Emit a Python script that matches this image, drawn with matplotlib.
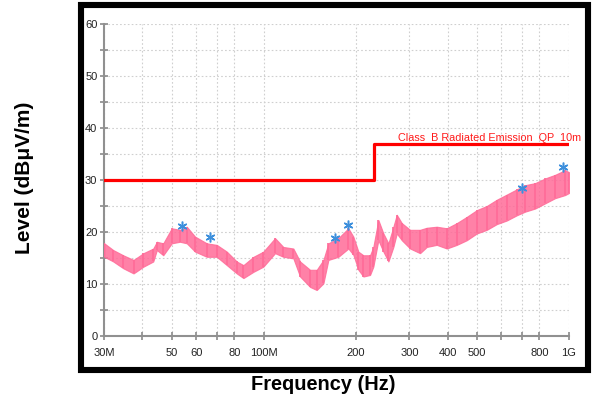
import numpy as np
import matplotlib
matplotlib.use('Agg')
import matplotlib.pyplot as plt
from matplotlib.patches import Rectangle
from matplotlib.ticker import FixedLocator, NullFormatter, NullLocator

plt.rcParams['font.family'] = ['Liberation Sans', 'DejaVu Sans']

#trace envelope (MHz, dBuV/m)
freq = [30.0, 32.1, 34.6, 37.4, 40.3, 43.4, 44.6, 46.8, 49.9, 53.1, 55.9, 59.5,
        65.0, 70.1, 75.6, 81.5, 85.7, 92.4, 99.6, 108.8, 115.8, 124.9, 131.4,
        141.7, 149.0, 156.7, 162.7, 175.4, 189.2, 196.4, 204.0, 211.9, 222.8,
        228.4, 237.2, 246.4, 255.9, 265.7, 272.6, 283.1, 301.4, 324.9, 341.8,
        368.6, 397.6, 428.8, 462.4, 498.7, 537.7, 579.7, 625.3, 674.2, 717.8,
        774.1, 834.8, 900.3, 970.8, 1000.0]
level_lo = [15.2, 14.3, 13.0, 12.0, 13.3, 14.3, 16.5, 15.5, 17.8, 18.1, 17.8, 16.2,
            15.2, 15.2, 13.6, 12.0, 11.1, 12.3, 13.3, 15.9, 15.2, 14.9, 11.4,
            9.4, 8.8, 10.1, 14.6, 15.2, 16.8, 15.6, 12.7, 11.4, 11.7,
            13.3, 18.4, 16.2, 14.3, 17.1, 19.7, 18.4, 16.8, 15.9, 17.1,
            17.5, 16.8, 17.5, 18.4, 19.7, 20.4, 21.5, 22.2, 23.2, 23.9,
            24.5, 25.5, 26.5, 27.1, 27.5]
level_hi = [17.8, 16.5, 15.5, 14.6, 15.9, 16.8, 18.1, 17.8, 20.7, 20.4, 21.0, 19.1,
            17.8, 17.5, 16.2, 14.3, 13.6, 15.2, 16.2, 18.8, 17.1, 16.8, 14.3,
            12.7, 12.7, 14.6, 17.8, 18.8, 20.7, 19.1, 16.2, 15.5, 15.5,
            17.1, 22.3, 19.7, 17.8, 21.0, 23.3, 21.7, 20.4, 20.4, 20.8,
            21.0, 20.7, 21.7, 22.9, 24.2, 25.0, 26.2, 27.2, 28.2, 29.0,
            29.4, 30.3, 31.0, 31.9, 31.5]

#limit line
limit_freq = [30, 230, 230, 1000]
limit_level = [30, 30, 37, 37]
limit_name = 'Class  B Radiated Emission  QP  10m'

#peak markers
peak_freq = [54.1, 66.5, 171, 189, 700, 958]
peak_level = [21.2, 19.0, 18.9, 21.3, 28.4, 32.6]

x_ticks = [30, 40, 50, 60, 70, 80, 100, 200, 300, 400, 500, 600, 700, 800, 1000]
x_labels = {30: '30M', 50: '50', 60: '60', 80: '80', 100: '100M', 200: '200',
            300: '300', 400: '400', 500: '500', 800: '800', 1000: '1G'}

#draw graph
fig = plt.figure(figsize=(5.92, 4.05), dpi=100)
ax = fig.add_axes([0.1762, 0.1711, 0.785, 0.7689])

pink = '#ff6b98'
ax.fill_between(freq, level_lo, level_hi, color=pink, alpha=0.85, lw=0.8,
                edgecolor=pink, zorder=3)
ax.vlines(freq, level_lo, level_hi, color=pink, lw=1.2, zorder=3)

ax.plot(limit_freq, limit_level, color='#ff0000', lw=2.3, zorder=4)
ax.text(275, 37.5, limit_name, color='#ff1a1a', fontsize=7.8, ha='left', va='baseline', zorder=5)

ax.plot(peak_freq, peak_level, ls='none', marker=(6, 2, 0), ms=7, mew=1.1,
        color='#3d8fdc', zorder=6)

ax.set_xscale('log')
ax.set_xlim(30, 1000)
ax.set_ylim(0, 60)
ax.xaxis.set_major_locator(FixedLocator(x_ticks))
ax.xaxis.set_minor_locator(NullLocator())
ax.xaxis.set_minor_formatter(NullFormatter())
ax.set_xticklabels([x_labels.get(t, '') for t in x_ticks])
ax.yaxis.set_major_locator(FixedLocator(np.arange(0, 61, 10)))
ax.yaxis.set_minor_locator(FixedLocator(np.arange(5, 60, 10)))

ax.grid(True, which='both', ls=(0, (1.5, 2)), color='#cfcfcf', lw=0.8, zorder=0)
for s in ['top', 'right']:
    ax.spines[s].set_visible(False)
for s in ['left', 'bottom']:
    ax.spines[s].set_color('#909090')
    ax.spines[s].set_linewidth(1.5)
ax.tick_params(which='both', direction='inout', length=6, width=1.1, color='#808080',
               labelsize=8, labelcolor='#222222', pad=2)
ax.tick_params(axis='x', pad=6)

#outer black frame
fig.patches.append(Rectangle((0.1368, 0.0864), 0.8564, 0.9012, transform=fig.transFigure,
                             fill=False, edgecolor='black', lw=4.4, zorder=10))

fig.text(25 / 592, 1 - 178 / 405, 'Level (dBμV/m)', rotation=90, ha='center', va='center',
         fontsize=15, fontweight='bold')
fig.text(323 / 592, 1 - 385 / 405, 'Frequency (Hz)', ha='center', va='center',
         fontsize=14.4, fontweight='bold')

fig.savefig('out.png', dpi=100)
plt.close()
